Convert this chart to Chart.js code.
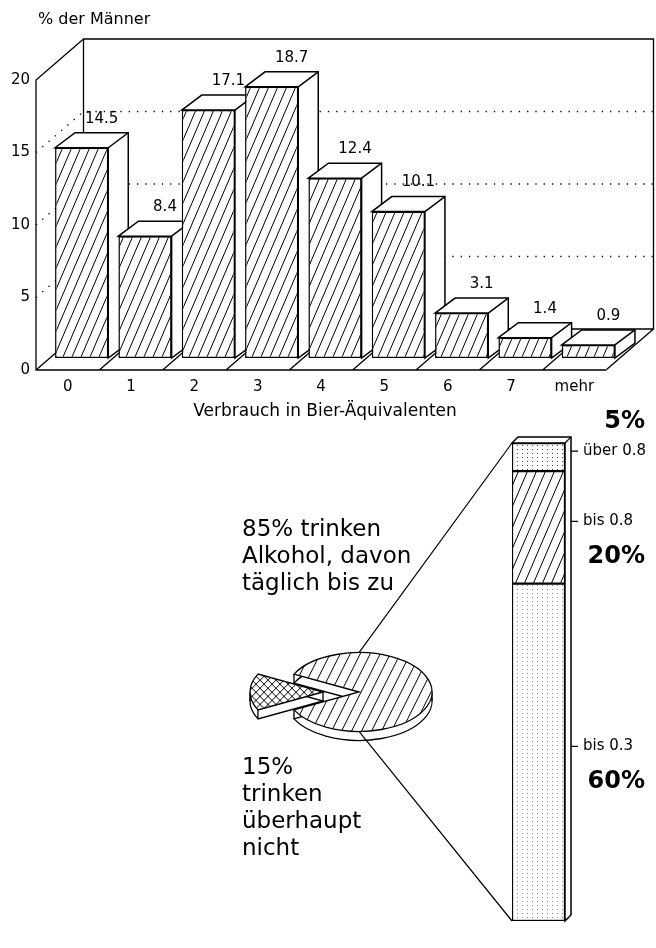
<!DOCTYPE html>
<html>
<head>
<meta charset="utf-8">
<script src="https://cdn.jsdelivr.net/npm/chart.js@4.4.1/dist/chart.umd.min.js"></script>
<style>
  body { margin: 0; background: #fff; }
  #page { position: relative; width: 656px; height: 948px; }
  canvas { position: absolute; left: 0; }
  #bars { top: 0; }
  #pie, #stack { top: 400px; }
</style>
</head>
<body>
<div id="page">
  <canvas id="bars" width="656" height="420"></canvas>
  <canvas id="pie" width="656" height="548"></canvas>
  <canvas id="stack" width="656" height="548"></canvas>
</div>
<script>
// consumption per day, share of men in %
const categories = ['0', '1', '2', '3', '4', '5', '6', '7', 'mehr'];
const shareOfMen = [14.5, 8.4, 17.1, 18.7, 12.4, 10.1, 3.1, 1.4, 0.9];
const yTicks = [0, 5, 10, 15, 20];

// drinkers vs. abstainers
const drinkShare = [85, 15];

// daily amount among drinkers, bottom to top
const doseLabels = ['bis 0.3', 'bis 0.8', 'über 0.8'];
const doseShare = [60, 20, 5];

const FONT = '"DejaVu Sans", sans-serif';
Chart.defaults.font.family = FONT;
Chart.defaults.color = '#000';

// oblique depth offsets for the bar chart (relative to bar fronts)
const DX = 20, DY = -15;   // bar depth
const AX = -14, AY = 12;   // front axis plane
const WX = 33.5, WY = -29; // back wall

// stacked bar depth, pie squash and thickness
const SX = 6, SY = -6;
const SQ = 0.54, DEPTH = 9;
const EXPLODE = [0, 36];

function hatch(w, h, lw, cross) {
  const c = document.createElement('canvas');
  c.width = w; c.height = h;
  const g = c.getContext('2d');
  g.fillStyle = '#fff';
  g.fillRect(0, 0, w, h);
  g.strokeStyle = '#000';
  g.lineWidth = lw;
  for (const s of [-w, 0, w]) {
    g.beginPath(); g.moveTo(s, h); g.lineTo(s + w, 0); g.stroke();
    if (cross) { g.beginPath(); g.moveTo(s, 0); g.lineTo(s + w, h); g.stroke(); }
  }
  return g.createPattern(c, 'repeat');
}

function dots(w, h, color) {
  const c = document.createElement('canvas');
  c.width = w; c.height = h;
  const g = c.getContext('2d');
  g.fillStyle = '#fff';
  g.fillRect(0, 0, w, h);
  g.fillStyle = color;
  g.fillRect(2, 1, 1, 1);
  return g.createPattern(c, 'repeat');
}

function line(ctx, x1, y1, x2, y2) {
  ctx.moveTo(x1, y1);
  ctx.lineTo(x2, y2);
}

// ---------- 3D bar chart ----------
const box3d = {
  id: 'box3d',
  beforeDatasetsDraw(chart) {
    const {ctx, chartArea: {left, right}, scales: {y}} = chart;
    const y0 = y.getPixelForValue(0), yTop = y.getPixelForValue(20);
    const step = (right - left) / categories.length;
    ctx.save();
    ctx.strokeStyle = '#000';
    ctx.lineWidth = 1.3;
    ctx.setLineDash([1.3, 7]);
    yTicks.slice(1, -1).forEach(v => {
      const py = y.getPixelForValue(v);
      ctx.beginPath();
      ctx.moveTo(left + AX, py + AY);
      ctx.lineTo(left + WX, py + WY);
      ctx.lineTo(right + WX, py + WY);
      ctx.stroke();
    });
    ctx.setLineDash([]);
    ctx.beginPath();
    // back wall
    ctx.moveTo(left + WX, y0 + WY);
    ctx.lineTo(left + WX, yTop + WY);
    ctx.lineTo(right + WX, yTop + WY);
    ctx.lineTo(right + WX, y0 + WY);
    ctx.lineTo(left + WX, y0 + WY);
    // side wall edge, value axis, floor front
    ctx.moveTo(left + WX, yTop + WY);
    ctx.lineTo(left + AX, yTop + AY);
    ctx.lineTo(left + AX, y0 + AY);
    ctx.lineTo(right + AX, y0 + AY);
    // floor dividers
    for (let k = 0; k <= categories.length; k++) {
      const bx = left + k * step;
      line(ctx, bx + AX, y0 + AY, bx + WX, y0 + WY);
    }
    ctx.stroke();
    ctx.restore();
  },
  beforeDatasetDraw(chart, args) {
    const ctx = chart.ctx;
    args.meta.data.forEach(bar => {
      const {x, y, base, width} = bar.getProps(['x', 'y', 'base', 'width'], true);
      const l = x - width / 2, r = x + width / 2;
      ctx.save();
      ctx.fillStyle = '#fff';
      ctx.strokeStyle = '#000';
      ctx.lineWidth = 1.5;
      ctx.beginPath();
      ctx.moveTo(l, y);
      ctx.lineTo(l + DX, y + DY);
      ctx.lineTo(r + DX, y + DY);
      ctx.lineTo(r + DX, base + DY);
      ctx.lineTo(r, base);
      ctx.lineTo(r, y);
      ctx.closePath();
      ctx.fill();
      ctx.stroke();
      ctx.beginPath();
      line(ctx, r, y, r + DX, y + DY);
      ctx.stroke();
      ctx.restore();
      bar.draw(ctx);
    });
    return false;
  },
  afterDatasetsDraw(chart) {
    const ctx = chart.ctx;
    ctx.save();
    ctx.fillStyle = '#000';
    ctx.font = `15px ${FONT}`;
    ctx.textAlign = 'center';
    ctx.textBaseline = 'middle';
    chart.getDatasetMeta(0).data.forEach((bar, i) => {
      ctx.fillText(shareOfMen[i].toFixed(1), bar.x + DX, bar.y + DY - 14);
    });
    ctx.restore();
  },
  afterDraw(chart) {
    const ctx = chart.ctx;
    ctx.save();
    ctx.fillStyle = '#000';
    ctx.textBaseline = 'middle';
    ctx.font = `16px ${FONT}`;
    ctx.textAlign = 'left';
    ctx.fillText('% der Männer', 38, 20);
    ctx.font = `17px ${FONT}`;
    ctx.textAlign = 'center';
    ctx.fillText('Verbrauch in Bier-Äquivalenten', 325, 412);
    ctx.restore();
  }
};

new Chart(document.getElementById('bars'), {
  type: 'bar',
  data: {
    labels: categories,
    datasets: [{
      data: shareOfMen,
      backgroundColor: hatch(9, 21, 1),
      borderColor: '#000',
      borderWidth: 1.5,
      borderSkipped: false,
      barPercentage: 0.84,
      categoryPercentage: 1
    }]
  },
  options: {
    responsive: false,
    animation: false,
    layout: { padding: { top: 68, right: 36, left: 0, bottom: 0 } },
    plugins: { legend: { display: false }, tooltip: { enabled: false } },
    scales: {
      x: {
        grid: { display: false, drawTicks: false },
        border: { display: false },
        ticks: { font: { size: 15 }, padding: 20, labelOffset: AX },
        afterFit(scale) { scale.height = 62; }
      },
      y: {
        min: 0,
        max: 20,
        afterBuildTicks(scale) { scale.ticks = yTicks.map(v => ({ value: v })); },
        grid: { display: false, drawTicks: false },
        border: { display: false },
        ticks: { font: { size: 15 }, padding: 20, labelOffset: AY },
        afterFit(scale) { scale.width = 50; }
      }
    }
  },
  plugins: [box3d]
});

// ---------- exploded 3D pie ----------
const pie3d = {
  id: 'pie3d',
  beforeDatasetDraw(chart, args) {
    const ctx = chart.ctx;
    args.meta.data.forEach((arc, i) => {
      const {x, y, startAngle, endAngle, outerRadius: R} =
        arc.getProps(['x', 'y', 'startAngle', 'endAngle', 'outerRadius'], true);
      const mid = (startAngle + endAngle) / 2;
      const ex = Math.cos(mid) * EXPLODE[i], ey = Math.sin(mid) * EXPLODE[i];
      const view = d => {
        ctx.translate(0, d);
        ctx.translate(x, y);
        ctx.scale(1, SQ);
        ctx.translate(-x, -y);
        ctx.translate(ex, ey);
      };
      const slicePath = d => {
        ctx.save();
        view(d);
        ctx.beginPath();
        ctx.moveTo(x, y);
        ctx.arc(x, y, R, startAngle, endAngle);
        ctx.closePath();
        ctx.restore();
      };
      ctx.save();
      ctx.fillStyle = '#fff';
      ctx.strokeStyle = '#000';
      ctx.lineWidth = 1.3;
      // side walls
      for (let d = DEPTH; d >= 0; d--) { slicePath(d); ctx.fill(); }
      slicePath(DEPTH);
      ctx.stroke();
      // vertical edges at the corners and silhouette
      const angles = [startAngle, endAngle];
      [0, Math.PI].forEach(a => {
        for (let k = -2; k <= 2; k++) {
          const t = a + k * 2 * Math.PI;
          if (t > startAngle && t < endAngle) angles.push(t);
        }
      });
      const pts = [[x, y]].concat(angles.map(t => [x + R * Math.cos(t), y + R * Math.sin(t)]));
      ctx.beginPath();
      pts.forEach(([px, py]) => {
        const sx = px + ex, sy = y + (py + ey - y) * SQ;
        line(ctx, sx, sy, sx, sy + DEPTH);
      });
      ctx.stroke();
      // top face
      ctx.save();
      view(0);
      arc.draw(ctx);
      ctx.restore();
      slicePath(0);
      ctx.stroke();
      ctx.restore();
    });
    return false;
  },
  afterDraw(chart) {
    const ctx = chart.ctx;
    const notes = [
      { y: 130, lines: [`${drinkShare[0]}% trinken`, 'Alkohol, davon', 'täglich bis zu'] },
      { y: 368, lines: [`${drinkShare[1]}%`, 'trinken', 'überhaupt', 'nicht'] }
    ];
    ctx.save();
    ctx.fillStyle = '#000';
    ctx.font = `23px ${FONT}`;
    ctx.textAlign = 'left';
    ctx.textBaseline = 'middle';
    notes.forEach(n => n.lines.forEach((t, k) => ctx.fillText(t, 242, n.y + k * 27)));
    ctx.restore();
  }
};

const pieChart = new Chart(document.getElementById('pie'), {
  type: 'pie',
  data: {
    labels: ['trinken Alkohol', 'trinken überhaupt nicht'],
    datasets: [{
      data: drinkShare,
      backgroundColor: [hatch(10, 37, 1), hatch(8, 15, 1, true)],
      borderWidth: 0,
      radius: 73
    }]
  },
  options: {
    responsive: false,
    animation: false,
    rotation: -63,
    layout: { padding: { left: 259, right: 197, top: 192, bottom: 156 } },
    plugins: { legend: { display: false }, tooltip: { enabled: false } }
  },
  plugins: [pie3d]
});

// ---------- stacked bar of daily amounts ----------
const stack3d = {
  id: 'stack3d',
  afterDatasetsDraw(chart) {
    const {ctx, scales: {y}} = chart;
    const metas = chart.getSortedVisibleDatasetMetas();
    const low = metas[0].data[0], high = metas[metas.length - 1].data[0];
    const l = low.x - low.width / 2, r = low.x + low.width / 2;
    const top = high.y, bottom = low.base;
    ctx.save();
    ctx.fillStyle = '#fff';
    ctx.strokeStyle = '#000';
    ctx.lineWidth = 1.5;
    ctx.beginPath();
    ctx.moveTo(l, top);
    ctx.lineTo(l + SX, top + SY);
    ctx.lineTo(r + SX, top + SY);
    ctx.lineTo(r + SX, bottom + SY);
    ctx.lineTo(r, bottom);
    ctx.lineTo(r, top);
    ctx.closePath();
    ctx.fill();
    ctx.stroke();
    ctx.beginPath();
    line(ctx, r, top, r + SX, top + SY);
    // tick marks on the rear edge
    let acc = 0;
    const tickY = doseShare.map(v => {
      const ty = y.getPixelForValue(acc + v / 2) + SY;
      acc += v;
      line(ctx, r + SX, ty, r + SX + 7, ty);
      return ty;
    });
    // links to the drinkers' slice
    const arc = pieChart.getDatasetMeta(0).data[0];
    const ry = arc.outerRadius * SQ;
    line(ctx, l, top, arc.x, arc.y - ry);
    line(ctx, l, bottom, arc.x, arc.y + ry);
    ctx.lineWidth = 1.2;
    ctx.stroke();
    // percentages
    ctx.fillStyle = '#000';
    ctx.font = `bold 24px ${FONT}`;
    ctx.textAlign = 'right';
    ctx.textBaseline = 'middle';
    doseShare.forEach((v, i) => {
      const py = i === doseShare.length - 1 ? top + SY - 15 : tickY[i] + 35;
      ctx.fillText(`${v}%`, 645, py);
    });
    ctx.restore();
  }
};

const dosePatterns = [dots(5, 4, '#8a8a8a'), hatch(9, 21, 1), dots(5, 4, '#444')];

new Chart(document.getElementById('stack'), {
  type: 'bar',
  data: {
    labels: [''],
    datasets: doseLabels.map((lab, i) => ({
      label: lab,
      data: [doseShare[i]],
      backgroundColor: dosePatterns[i],
      borderColor: '#000',
      borderWidth: 1.5,
      borderSkipped: false,
      barPercentage: 1,
      categoryPercentage: 1
    }))
  },
  options: {
    responsive: false,
    animation: false,
    layout: { padding: { left: 512, top: 43, bottom: 3, right: 0 } },
    plugins: { legend: { display: false }, tooltip: { enabled: false } },
    scales: {
      x: { display: false, stacked: true },
      y: {
        stacked: true,
        position: 'right',
        min: 0,
        max: 85,
        afterBuildTicks(scale) {
          let acc = 0;
          scale.ticks = doseShare.map(v => {
            const m = acc + v / 2;
            acc += v;
            return { value: m };
          });
        },
        afterFit(scale) { scale.width = 91; },
        grid: { display: false, drawTicks: false },
        border: { display: false },
        ticks: {
          callback: (v, i) => doseLabels[i],
          font: { size: 15 },
          padding: 18,
          labelOffset: SY
        }
      }
    }
  },
  plugins: [stack3d]
});
</script>
</body>
</html>
